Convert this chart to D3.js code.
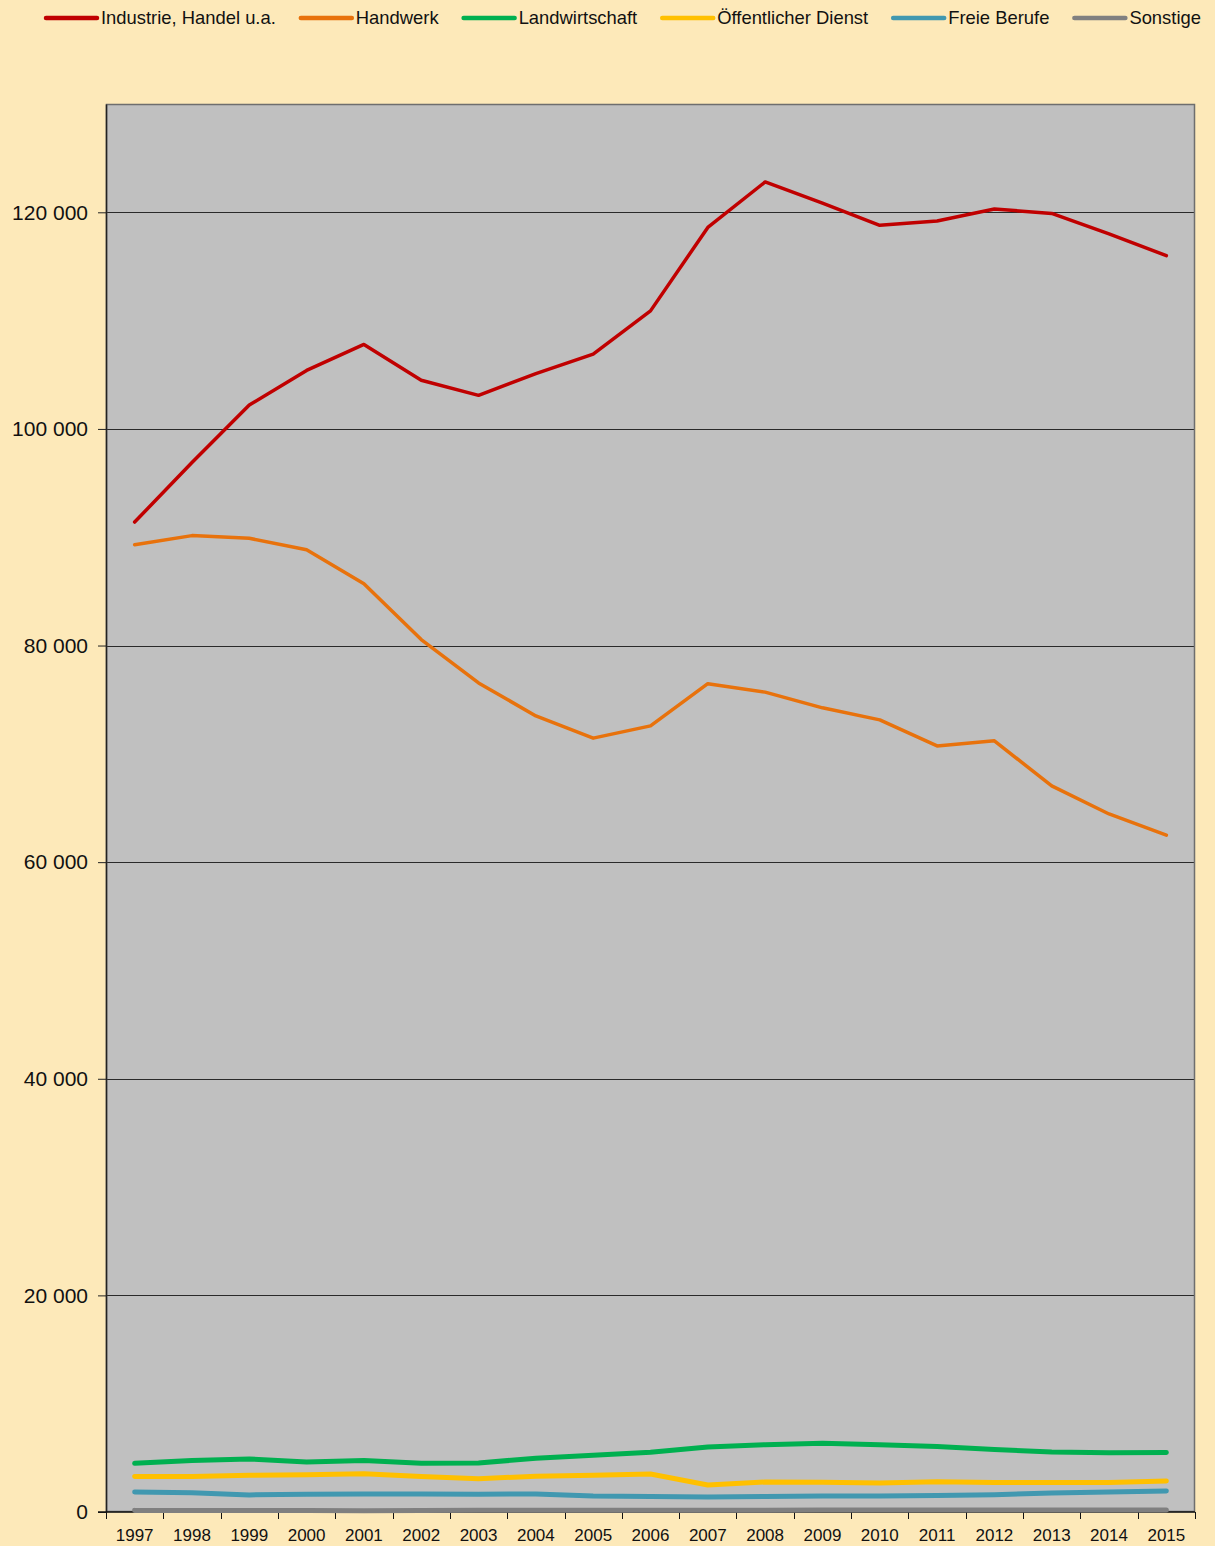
<!DOCTYPE html>
<meta charset="utf-8">
<style>
    body { margin: 0; background: #FDE9B9; font-family: "Liberation Sans", Arial, sans-serif; }
    svg { display: block; }
</style>
<body>
<script src="https://cdn.jsdelivr.net/npm/d3@7"></script>
<script>

var years = ["1997","1998","1999","2000","2001","2002","2003","2004","2005","2006",
             "2007","2008","2009","2010","2011","2012","2013","2014","2015"];

var industrie = [91400, 96900, 102200, 105400, 107800, 104500, 103100, 105100, 106900, 110900,
                 118600, 122800, 120850, 118800, 119200, 120300, 119900, 118000, 116000];
var handwerk = [89300, 90150, 89900, 88850, 85700, 80550, 76550, 73500, 71450, 72580,
                76480, 75700, 74250, 73140, 70730, 71200, 67040, 64450, 62500];
var landwirtschaft = [4500, 4750, 4900, 4620, 4750, 4500, 4530, 4960, 5240, 5520,
                      6000, 6220, 6350, 6220, 6050, 5770, 5550, 5460, 5490];
var oeffentlich = [3270, 3280, 3390, 3450, 3540, 3270, 3080, 3300, 3390, 3510,
                   2500, 2770, 2750, 2680, 2800, 2720, 2720, 2720, 2870];
var freie = [1850, 1780, 1580, 1640, 1660, 1660, 1650, 1660, 1480, 1420,
             1390, 1440, 1480, 1480, 1520, 1600, 1750, 1850, 1950];
var sonstige = [150, 140, 130, 140, 120, 150, 170, 170, 170, 160,
                160, 170, 180, 180, 180, 180, 190, 190, 190];

var seriesNames = ["Industrie, Handel u.a.", "Handwerk", "Landwirtschaft",
                   "Öffentlicher Dienst", "Freie Berufe", "Sonstige"];
var seriesValues = [industrie, handwerk, landwirtschaft, oeffentlich, freie, sonstige];
var seriesColors = ["#C00000", "#E8720C", "#00B050", "#FFC000", "#4198B0", "#808080"];
var seriesWidths = [3.5, 3.5, 5, 5, 5, 5];

var yTicks = [0, 20000, 40000, 60000, 80000, 100000, 120000];

var width = 1215, height = 1546;
var margin = {top: 104, right: 20, bottom: 34, left: 106};
var plotW = width - margin.left - margin.right,
    plotH = height - margin.top - margin.bottom;

var svg = d3.select("body").append("svg")
    .attr("width", width)
    .attr("height", height);

svg.append("rect")
    .attr("width", width).attr("height", height)
    .attr("fill", "#FDE9B9");

var g = svg.append("g")
    .attr("transform", "translate(" + margin.left + "," + margin.top + ")");

var x = d3.scaleBand().domain(years).range([0, plotW]);
var y = d3.scaleLinear().domain([0, 130000]).range([plotH, 0]);

g.append("rect")
    .attr("width", plotW).attr("height", plotH)
    .attr("fill", "#C0C0C0");

// gridlines
g.selectAll(".grid")
    .data(yTicks.filter(function(d) { return d > 0; }))
  .enter().append("line")
    .attr("x1", 0).attr("x2", plotW)
    .attr("y1", function(d) { return Math.round(y(d)) + 0.5; })
    .attr("y2", function(d) { return Math.round(y(d)) + 0.5; })
    .attr("stroke", "#2a2a2a")
    .attr("stroke-width", 1);

// plot border
g.append("rect")
    .attr("x", 0.5).attr("y", 0.5)
    .attr("width", plotW - 1).attr("height", plotH - 1)
    .attr("fill", "none")
    .attr("stroke", "#6e6e6e")
    .attr("stroke-width", 1.5);

var fmt = function(d) { return d3.format(",")(d).replace(/,/g, " "); };

var yAxis = g.append("g")
    .call(d3.axisLeft(y).tickValues(yTicks).tickSize(8).tickSizeOuter(0)
        .tickPadding(10).tickFormat(fmt));
yAxis.select(".domain").attr("stroke", "#222").attr("stroke-width", 1.5);
yAxis.selectAll(".tick line").attr("stroke", "#222");
yAxis.selectAll("text")
    .attr("font-family", "Liberation Sans, Arial, sans-serif")
    .attr("font-size", 21)
    .attr("fill", "#111");

// x axis: ticks at the band boundaries
var xAxis = g.append("g")
    .attr("transform", "translate(0," + plotH + ")");
xAxis.append("line")
    .attr("x1", -8).attr("x2", plotW)
    .attr("stroke", "#111").attr("stroke-width", 1.5);
xAxis.selectAll(".xt")
    .data(years.concat(["end"]))
  .enter().append("line")
    .attr("x1", function(d, i) { return Math.round(i * x.step()) + 0.5; })
    .attr("x2", function(d, i) { return Math.round(i * x.step()) + 0.5; })
    .attr("y1", 0).attr("y2", 7)
    .attr("stroke", "#111");
xAxis.selectAll(".xl")
    .data(years)
  .enter().append("text")
    .attr("x", function(d) { return x(d) + x.bandwidth() / 2; })
    .attr("y", 29)
    .attr("text-anchor", "middle")
    .attr("font-size", 17)
    .attr("fill", "#111")
    .text(function(d) { return d; });

var line = d3.line()
    .x(function(d, i) { return x(years[i]) + x.bandwidth() / 2; })
    .y(function(d) { return y(d); });

// draw from the bottom series up so big lines sit on top
for (var s = seriesValues.length - 1; s >= 0; s--) {
    g.append("path")
        .datum(seriesValues[s])
        .attr("d", line)
        .attr("fill", "none")
        .attr("stroke", seriesColors[s])
        .attr("stroke-width", seriesWidths[s])
        .attr("stroke-linejoin", "round")
        .attr("stroke-linecap", "round");
}

// legend
var legend = svg.append("g").attr("transform", "translate(0,18)");
var lx = 44;
seriesNames.forEach(function(name, i) {
    var item = legend.append("g").attr("transform", "translate(" + lx + ",0)");
    item.append("line")
        .attr("x1", 2).attr("x2", 53)
        .attr("stroke", seriesColors[i])
        .attr("stroke-width", 4.5)
        .attr("stroke-linecap", "round");
    var t = item.append("text")
        .attr("x", 57).attr("y", 6)
        .attr("font-size", 18.4)
        .attr("fill", "#111")
        .text(name);
    lx += 57 + t.node().getComputedTextLength() + 23;
});

</script>
</body>
